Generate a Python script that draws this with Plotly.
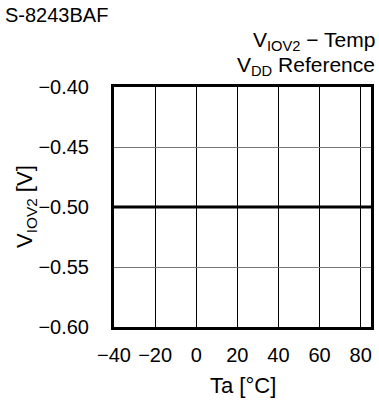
import plotly.graph_objects as go

# data
temps = [-40, -20, 0, 20, 40, 60, 80, 85]
v_iov2 = [-0.50, -0.50, -0.50, -0.50, -0.50, -0.50, -0.50, -0.50]

x_ticks = [-40, -20, 0, 20, 40, 60, 80]
x_ticktext = ["\u221240", "\u221220", "0", "20", "40", "60", "80"]
y_ticks = [-0.60, -0.55, -0.50, -0.45, -0.40]
y_ticktext = ["\u22120.60", "\u22120.55", "\u22120.50", "\u22120.45", "\u22120.40"]

FONT = "Liberation Sans, Arial, sans-serif"
FS = 20

fig = go.Figure()
fig.add_trace(go.Scatter(x=temps, y=v_iov2, mode="lines",
                         line=dict(color="black", width=3),
                         showlegend=False, hoverinfo="skip"))

fig.update_layout(
    width=379, height=408,
    margin=dict(l=114, r=5, t=87, b=81),
    paper_bgcolor="white", plot_bgcolor="white",
    font=dict(family=FONT, size=FS, color="black"),
    xaxis=dict(range=[-40, 85], tickvals=x_ticks, ticktext=x_ticktext,
               showgrid=True, gridcolor="black", gridwidth=1,
               showline=True, linecolor="black", linewidth=3, mirror=True,
               ticks="", ticklabelstandoff=8, zeroline=False,
               fixedrange=True),
    yaxis=dict(range=[-0.60, -0.40], tickvals=y_ticks, ticktext=y_ticktext,
               showgrid=True, gridcolor="#777777", gridwidth=1,
               showline=True, linecolor="black", linewidth=3, mirror=True,
               ticks="", ticklabelstandoff=18, zeroline=False,
               fixedrange=True),
)

ann = dict(xref="paper", yref="paper", showarrow=False)
fig.add_annotation(text="S-8243BAF", x=-112 / 260, y=1 + 72 / 240,
                   xanchor="left", yanchor="middle",
                   font=dict(family=FONT, size=FS, color="black"), **ann)
fig.add_annotation(text="V<sub>IOV2</sub> \u2212 Temp", x=1 + 6 / 260, y=1 + 46 / 240,
                   xanchor="right", yanchor="middle",
                   font=dict(family=FONT, size=21, color="black"), **ann)
fig.add_annotation(text="V<sub>DD</sub> Reference", x=1 + 6 / 260, y=1 + 21 / 240,
                   xanchor="right", yanchor="middle",
                   font=dict(family=FONT, size=21, color="black"), **ann)
fig.add_annotation(text="V<sub>IOV2</sub> [V]", x=-89 / 260, y=0.5,
                   textangle=-90, xanchor="center", yanchor="middle",
                   font=dict(family=FONT, size=22, color="black"), **ann)
fig.add_annotation(text="Ta [°C]", x=0.5, y=-58 / 240,
                   xanchor="center", yanchor="middle",
                   font=dict(family=FONT, size=22, color="black"), **ann)

fig.write_html("out.html", config={"displayModeBar": False},
               post_script="document.body.style.margin='0px';")
